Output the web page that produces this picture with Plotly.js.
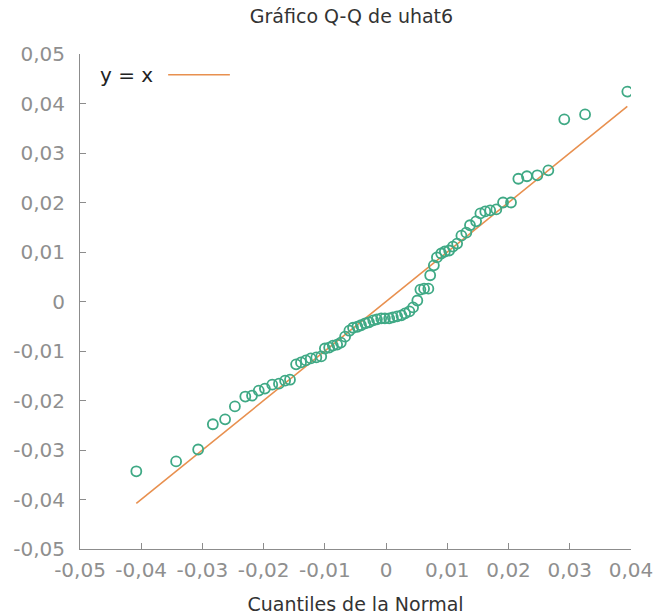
<!DOCTYPE html>
<html>
<head>
<meta charset="utf-8">
<script src="https://cdn.plot.ly/plotly-3.0.1.min.js"></script>
<style>html,body{margin:0;padding:0;background:#fff;}#chart{width:657px;height:615px;}</style>
</head>
<body>
<div id="chart"></div>
<script>
// Normal quantiles (x) and sorted residuals uhat6 (y)
const normalQuantiles = [
  -0.0408, -0.0343, -0.0307, -0.0283, -0.0263, -0.0247, -0.0230, -0.0219, -0.0208, -0.0198,
  -0.0186, -0.0175, -0.0165, -0.0157, -0.0147, -0.0139, -0.0131, -0.0123, -0.0114, -0.0106,
  -0.0100, -0.0093, -0.0087, -0.0080, -0.0074, -0.0067, -0.0060, -0.0054, -0.0047, -0.0041,
  -0.0034, -0.0028, -0.0021, -0.0015, -0.0008, -0.0002, 0.0005, 0.0011, 0.0018, 0.0025,
  0.0031, 0.0038, 0.0044, 0.0051, 0.0056, 0.0062, 0.0069, 0.0072, 0.0078, 0.0083,
  0.0090, 0.0096, 0.0103, 0.0109, 0.0116, 0.0123, 0.0131, 0.0137, 0.0147, 0.0154,
  0.0162, 0.0170, 0.0180, 0.0191, 0.0204, 0.0216, 0.0230, 0.0247, 0.0265, 0.0291,
  0.0325, 0.0394
];
const residuals = [
  -0.0343, -0.0323, -0.0299, -0.0248, -0.0238, -0.0212, -0.0192, -0.0190, -0.0180, -0.0176,
  -0.0168, -0.0166, -0.0160, -0.0158, -0.0127, -0.0123, -0.0119, -0.0115, -0.0113, -0.0111,
  -0.0095, -0.0093, -0.0089, -0.0087, -0.0083, -0.0071, -0.0059, -0.0053, -0.0051, -0.0048,
  -0.0044, -0.0042, -0.0038, -0.0036, -0.0034, -0.0034, -0.0034, -0.0032, -0.0030, -0.0028,
  -0.0024, -0.0020, -0.0012, 0.0002, 0.0024, 0.0026, 0.0026, 0.0053, 0.0073, 0.0089,
  0.0097, 0.0101, 0.0103, 0.0111, 0.0117, 0.0133, 0.0139, 0.0154, 0.0162, 0.0178,
  0.0182, 0.0184, 0.0186, 0.0200, 0.0200, 0.0248, 0.0253, 0.0255, 0.0265, 0.0368,
  0.0378, 0.0424
];
const lineX = [-0.0408, 0.0394];
const lineY = [-0.0408, 0.0394];

const xTickVals = [-0.05, -0.04, -0.03, -0.02, -0.01, 0, 0.01, 0.02, 0.03, 0.04];
const xTickLabels = ["-0,05", "-0,04", "-0,03", "-0,02", "-0,01", "0", "0,01", "0,02", "0,03", "0,04"];
const yTickVals = [-0.05, -0.04, -0.03, -0.02, -0.01, 0, 0.01, 0.02, 0.03, 0.04, 0.05];
const yTickLabels = ["-0,05", "-0,04", "-0,03", "-0,02", "-0,01", "0", "0,01", "0,02", "0,03", "0,04", "0,05"];

const titleText = "Gráfico Q-Q de uhat6";
const xTitle = "Cuantiles de la Normal";
const legendLabel = "y = x";

const green = "#3fa985";
const orange = "#e8904f";
const axisGray = "#8c8c8c";
const tickGray = "#8f8f8f";
const font = "DejaVu Sans, Verdana, sans-serif";

const traces = [
  {
    x: lineX, y: lineY, type: "scatter", mode: "lines",
    line: {color: orange, width: 1.6}, showlegend: false, hoverinfo: "skip"
  },
  {
    x: normalQuantiles, y: residuals, type: "scatter", mode: "markers",
    marker: {symbol: "circle-open", size: 10, color: green, line: {width: 1.8, color: green}},
    showlegend: false
  }
];

const layout = {
  width: 657, height: 615,
  margin: {l: 80, r: 26, t: 54, b: 66},
  paper_bgcolor: "#fff", plot_bgcolor: "#fff",
  font: {family: font, size: 20, color: tickGray},
  title: {text: titleText, font: {family: font, size: 19, color: "#333"}, x: 0.535, xanchor: "center", y: 0.974, yanchor: "middle"},
  showlegend: false,
  xaxis: {
    range: [-0.05, 0.04], tickvals: xTickVals, ticktext: xTickLabels,
    showgrid: false, zeroline: false, showline: true, linecolor: axisGray, linewidth: 1,
    ticks: "inside", ticklen: 6, tickcolor: axisGray, ticklabelstandoff: 3,
    tickfont: {family: font, size: 20, color: tickGray},
    title: {text: xTitle, font: {family: font, size: 19, color: "#333"}, standoff: 16}
  },
  yaxis: {
    range: [-0.05, 0.05], tickvals: yTickVals, ticktext: yTickLabels,
    showgrid: false, zeroline: false, showline: true, linecolor: axisGray, linewidth: 1,
    ticks: "inside", ticklen: 6, tickcolor: axisGray, ticklabelstandoff: 10,
    tickfont: {family: font, size: 20, color: tickGray}
  },
  annotations: [{
    text: legendLabel, xref: "paper", yref: "paper", x: 0.033, y: 0.958,
    xanchor: "left", yanchor: "middle", showarrow: false,
    font: {family: font, size: 20, color: "#222"}
  }],
  shapes: [{
    type: "line", xref: "paper", yref: "paper", x0: 0.160, x1: 0.272, y0: 0.958, y1: 0.958,
    line: {color: orange, width: 1.6}
  }]
};

Plotly.newPlot("chart", traces, layout, {displayModeBar: false, staticPlot: true});
</script>
</body>
</html>
